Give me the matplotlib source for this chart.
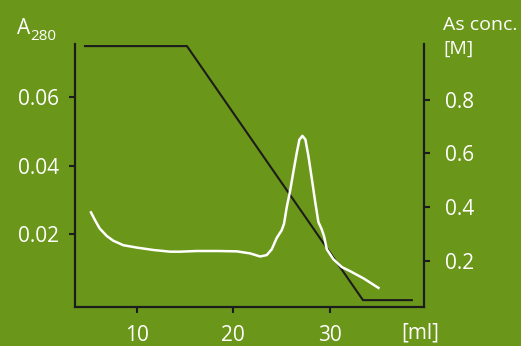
import matplotlib.pyplot as plt

# elution volume (ml) and A280 of the protein trace
vol = [5.28, 5.70, 6.18, 6.91, 7.59, 8.62, 10.01, 11.73, 13.45, 14.49,
       16.22, 18.28, 20.35, 21.73, 22.76, 23.45, 23.97, 24.48, 25.0, 25.24,
       25.52, 25.86, 26.2, 26.56, 26.83, 27.14, 27.45, 27.76, 28.11, 28.45,
       28.79, 29.14, 29.38, 29.66, 30.34, 31.21, 32.07, 33.45, 35.0]
a280 = [0.0263, 0.0240, 0.0216, 0.0194, 0.0180, 0.0167, 0.0160, 0.0153,
        0.0148, 0.0148, 0.0150, 0.0150, 0.0149, 0.0143, 0.0134, 0.0138,
        0.0155, 0.0188, 0.0211, 0.0230, 0.0278, 0.0325, 0.0381, 0.0438,
        0.0476, 0.0487, 0.0476, 0.0428, 0.0362, 0.0296, 0.0235, 0.0213,
        0.0193, 0.0155, 0.0126, 0.0103, 0.0091, 0.0070, 0.0042]

# salt gradient
grad_vol = [4.66, 15.2, 33.4, 38.45]
grad_conc = [1.0, 1.0, 0.053, 0.053]

green = "#6A961A"
dark = "#1c1c1c"
font = "Open Sans"

fig = plt.figure(figsize=(5.21, 3.46), dpi=100, facecolor=green)
ax = fig.add_axes([0.144, 0.1136, 0.670, 0.7594])
ax2 = ax.twinx()
ax.set_zorder(ax2.get_zorder() + 1)
ax.patch.set_visible(False)
ax2.patch.set_visible(False)

ax.plot(vol, a280, color="white", linewidth=1.8, solid_joinstyle="round")
ax2.plot(grad_vol, grad_conc, color=dark, linewidth=1.5)

ax.set_xlim(3.63, 39.72)
ax.set_ylim(-0.0013, 0.0756)
ax2.set_ylim(0.0285, 1.008)

ax.set_xticks([10, 20, 30])
ax.set_xticklabels(["10", "20", "30"])
ax.set_yticks([0.02, 0.04, 0.06])
ax.set_yticklabels(["0.02", "0.04", "0.06"])
ax2.set_yticks([0.2, 0.4, 0.6, 0.8])
ax2.set_yticklabels(["0.2", "0.4", "0.6", "0.8"])

for a in (ax, ax2):
    for s in a.spines.values():
        s.set_color(dark)
        s.set_linewidth(1.5)
    a.spines["top"].set_visible(False)
    a.tick_params(colors=dark, width=1.5, length=4.3, labelcolor="white",
                  labelsize=15)
    for lab in a.get_xticklabels() + a.get_yticklabels():
        lab.set_fontfamily(font)
ax.tick_params(axis="x", pad=9)
ax.tick_params(axis="y", pad=7)
ax2.tick_params(axis="y", pad=11)

fig.text(17 / 521, 1 - 34 / 346, "A", color="white", fontsize=15,
         family=font, va="baseline")
fig.text(30 / 521, 1 - 39.5 / 346, "280", color="white", fontsize=11,
         family=font, va="baseline")
fig.text(443 / 521, 1 - 30 / 346, "As conc.", color="white", fontsize=14,
         family=font, va="baseline")
fig.text(443 / 521, 1 - 54 / 346, "[M]", color="white", fontsize=14,
         family=font, va="baseline")
fig.text(401 / 521, 1 - 339 / 346, "[ml]", color="white", fontsize=15,
         family=font, va="baseline")

fig.savefig("out.png", dpi=100, facecolor=green)
